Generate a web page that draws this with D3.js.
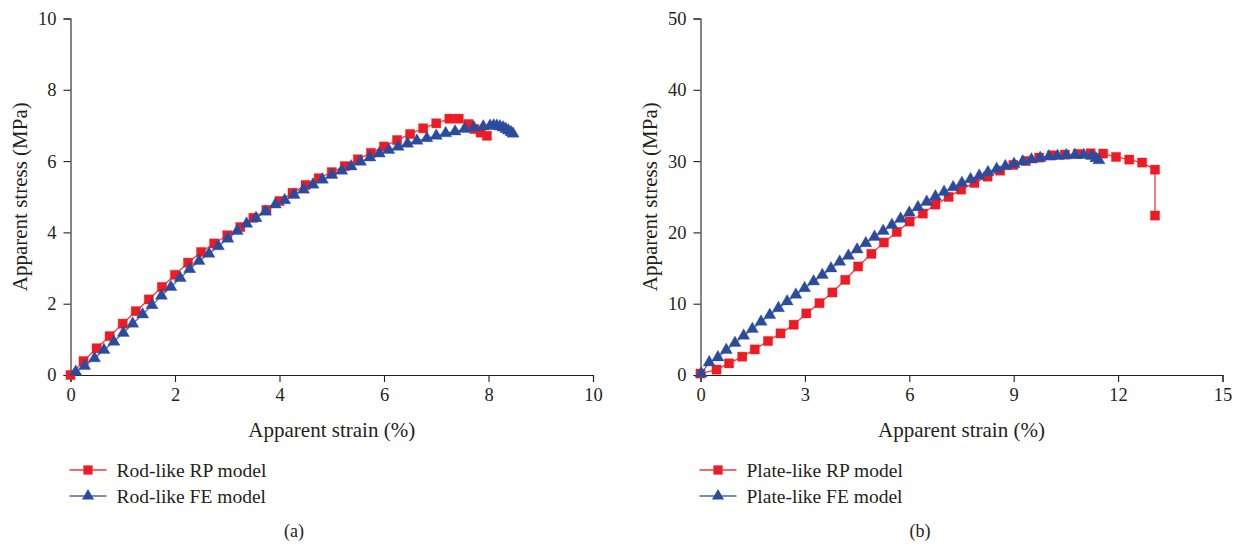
<!DOCTYPE html>
<html>
<head>
<meta charset="utf-8">
<script src="https://cdn.jsdelivr.net/npm/d3@7"></script>
<style>
  body { margin: 0; background: #fff; }
  text { font-family: "Liberation Serif", "DejaVu Serif", serif; fill: #231f20; }
</style>
</head>
<body>
<svg id="chart" width="1242" height="546"></svg>
<script>
// panel (a) rod-like
const rodRpStrain = [0, 0.25, 0.5, 0.75, 1.0, 1.25, 1.5, 1.75, 2.0, 2.25, 2.5, 2.75, 3.0, 3.25, 3.5, 3.75, 4.0, 4.25, 4.5, 4.75, 5.0, 5.25, 5.5, 5.75, 6.0, 6.25, 6.5, 6.75, 7.0, 7.25, 7.43, 7.62, 7.73, 7.85, 7.97];
const rodRpStress = [0, 0.39, 0.75, 1.09, 1.44, 1.79, 2.12, 2.47, 2.81, 3.15, 3.45, 3.69, 3.92, 4.15, 4.41, 4.63, 4.88, 5.11, 5.33, 5.52, 5.69, 5.86, 6.05, 6.23, 6.41, 6.59, 6.76, 6.92, 7.06, 7.19, 7.19, 7.04, 6.9, 6.8, 6.71];
const rodFeStrain = [0.1, 0.27, 0.46, 0.64, 0.83, 1.01, 1.19, 1.38, 1.56, 1.74, 1.92, 2.1, 2.28, 2.46, 2.65, 2.83, 3.01, 3.19, 3.37, 3.55, 3.73, 3.92, 4.1, 4.28, 4.46, 4.64, 4.82, 5.0, 5.19, 5.37, 5.55, 5.73, 5.91, 6.09, 6.27, 6.45, 6.63, 6.82, 7.0, 7.18, 7.36, 7.54, 7.72, 7.9, 8.03, 8.1, 8.16, 8.22, 8.28, 8.33, 8.38, 8.43, 8.47];
const rodFeStress = [0.09, 0.25, 0.47, 0.7, 0.93, 1.18, 1.44, 1.7, 1.96, 2.22, 2.47, 2.72, 2.97, 3.2, 3.4, 3.61, 3.82, 4.04, 4.24, 4.4, 4.58, 4.78, 4.9, 5.05, 5.2, 5.34, 5.48, 5.61, 5.73, 5.85, 5.98, 6.1, 6.21, 6.31, 6.4, 6.49, 6.57, 6.64, 6.71, 6.78, 6.83, 6.9, 6.94, 6.97, 6.99, 7.0, 6.99, 6.97, 6.94, 6.9, 6.86, 6.81, 6.77];

// panel (b) plate-like
const plateRpStrain = [0, 0.46, 0.82, 1.2, 1.56, 1.94, 2.3, 2.68, 3.04, 3.42, 3.79, 4.16, 4.53, 4.91, 5.27, 5.64, 6.01, 6.39, 6.75, 7.13, 7.49, 7.87, 8.25, 8.61, 8.99, 9.35, 9.73, 10.1, 10.47, 10.84, 11.21, 11.57, 11.94, 12.32, 12.69, 13.06, 13.06];
const plateRpStress = [0.2, 0.75, 1.63, 2.57, 3.59, 4.76, 5.84, 7.05, 8.64, 10.08, 11.58, 13.35, 15.22, 16.99, 18.58, 20.07, 21.52, 22.64, 23.9, 24.98, 26.0, 26.94, 27.82, 28.66, 29.46, 30.02, 30.49, 30.81, 30.91, 31.0, 31.09, 31.05, 30.58, 30.21, 29.79, 28.8, 22.36];
const plateFeStrain = [0.02, 0.25, 0.5, 0.74, 0.99, 1.24, 1.49, 1.74, 1.99, 2.24, 2.49, 2.74, 2.99, 3.25, 3.5, 3.75, 4.0, 4.25, 4.5, 4.75, 5.0, 5.25, 5.5, 5.75, 6.0, 6.25, 6.5, 6.75, 7.0, 7.26, 7.51, 7.76, 8.01, 8.26, 8.51, 8.76, 9.01, 9.26, 9.51, 9.76, 10.01, 10.26, 10.51, 10.76, 11.01, 11.24, 11.36, 11.45];
const plateFeStress = [0.2, 1.77, 2.47, 3.5, 4.48, 5.51, 6.44, 7.47, 8.4, 9.38, 10.32, 11.25, 12.18, 13.12, 14.01, 14.94, 15.87, 16.71, 17.6, 18.49, 19.37, 20.21, 21.05, 21.9, 22.74, 23.53, 24.28, 25.02, 25.68, 26.33, 26.94, 27.45, 27.96, 28.43, 28.9, 29.27, 29.6, 29.93, 30.21, 30.44, 30.63, 30.72, 30.81, 30.86, 30.86, 30.72, 30.39, 30.11];

const rodXTicks = [0, 2, 4, 6, 8, 10];
const rodYTicks = [0, 2, 4, 6, 8, 10];
const plateXTicks = [0, 3, 6, 9, 12, 15];
const plateYTicks = [0, 10, 20, 30, 40, 50];

const red = "#ed1c24";
const blue = "#2b4c9e";

const svg = d3.select("#chart");
svg.append("rect").attr("width", 1242).attr("height", 546).attr("fill", "#fff");

function zip(xs, ys) {
  return xs.map((x, i) => ({ x: x, y: ys[i] }));
}

function drawPanel(opt) {
  const x = d3.scaleLinear().domain([opt.xTicks[0], opt.xTicks[opt.xTicks.length - 1]]).range([opt.left, opt.right]);
  const y = d3.scaleLinear().domain([opt.yTicks[0], opt.yTicks[opt.yTicks.length - 1]]).range([375, 18.5]);
  const g = svg.append("g");

  const xAxis = g.append("g")
    .attr("transform", "translate(0,375)")
    .call(d3.axisBottom(x).tickValues(opt.xTicks).tickSize(7).tickPadding(6).tickFormat(d3.format("d")));
  const yAxis = g.append("g")
    .attr("transform", "translate(" + opt.left + ",0)")
    .call(d3.axisLeft(y).tickValues(opt.yTicks).tickSize(7).tickPadding(7).tickFormat(d3.format("d")));
  [xAxis, yAxis].forEach((a) => {
    a.selectAll("path, line").attr("stroke", "#231f20").attr("stroke-width", 1.1);
    a.selectAll("text").style("font-size", "18.5px").attr("fill", "#231f20")
      .style("font-family", "'Liberation Serif', serif");
  });

  g.append("text")
    .attr("x", (opt.left + opt.right) / 2)
    .attr("y", 437)
    .attr("text-anchor", "middle")
    .style("font-size", "21px")
    .text("Apparent strain (%)");

  g.append("text")
    .attr("transform", "translate(" + (opt.left - 44) + "," + (375 + 18.5) / 2 + ") rotate(-90)")
    .attr("text-anchor", "middle")
    .style("font-size", "21px")
    .text("Apparent stress (MPa)");

  const line = d3.line().x((d) => x(d.x)).y((d) => y(d.y));
  const series = [
    { data: zip(opt.rpX, opt.rpY), color: red, lineColor: "#ee3a40", symbol: d3.symbolSquare, size: 85, name: opt.rpName },
    { data: zip(opt.feX, opt.feY), color: blue, lineColor: "#4a66ae", symbol: d3.symbolTriangle, size: 64, name: opt.feName }
  ];

  series.forEach((s) => {
    g.append("path")
      .datum(s.data)
      .attr("d", line)
      .attr("fill", "none")
      .attr("stroke", s.lineColor)
      .attr("stroke-width", 1.3);
    g.selectAll(null)
      .data(s.data)
      .join("path")
      .attr("transform", (d) => "translate(" + x(d.x) + "," + y(d.y) + ")")
      .attr("d", d3.symbol().type(s.symbol).size(s.size))
      .attr("fill", s.color)
      .attr("stroke", s.color)
      .attr("stroke-opacity", 0.35)
      .attr("stroke-width", 1);
  });

  // legend
  series.forEach((s, i) => {
    const ly = 470 + i * 26;
    const lg = g.append("g").attr("transform", "translate(" + (opt.left - 1) + "," + ly + ")");
    lg.append("line")
      .attr("x1", 0).attr("x2", 37)
      .attr("stroke", s.lineColor).attr("stroke-width", 1.3);
    lg.append("path")
      .attr("transform", "translate(18.5,0)")
      .attr("d", d3.symbol().type(s.symbol).size(s.size))
      .attr("fill", s.color);
    lg.append("text")
      .attr("x", 47)
      .attr("y", 6.5)
      .style("font-size", "19.5px")
      .text(s.name);
  });

  g.append("text")
    .attr("x", opt.captionX)
    .attr("y", 537)
    .attr("text-anchor", "middle")
    .style("font-size", "18px")
    .text(opt.caption);
}

drawPanel({
  left: 70.5, right: 593,
  xTicks: rodXTicks, yTicks: rodYTicks,
  rpX: rodRpStrain, rpY: rodRpStress, feX: rodFeStrain, feY: rodFeStress,
  rpName: "Rod-like RP model", feName: "Rod-like FE model",
  caption: "(a)", captionX: 294
});

drawPanel({
  left: 700.5, right: 1222.5,
  xTicks: plateXTicks, yTicks: plateYTicks,
  rpX: plateRpStrain, rpY: plateRpStress, feX: plateFeStrain, feY: plateFeStress,
  rpName: "Plate-like RP model", feName: "Plate-like FE model",
  caption: "(b)", captionX: 920
});
</script>
</body>
</html>
